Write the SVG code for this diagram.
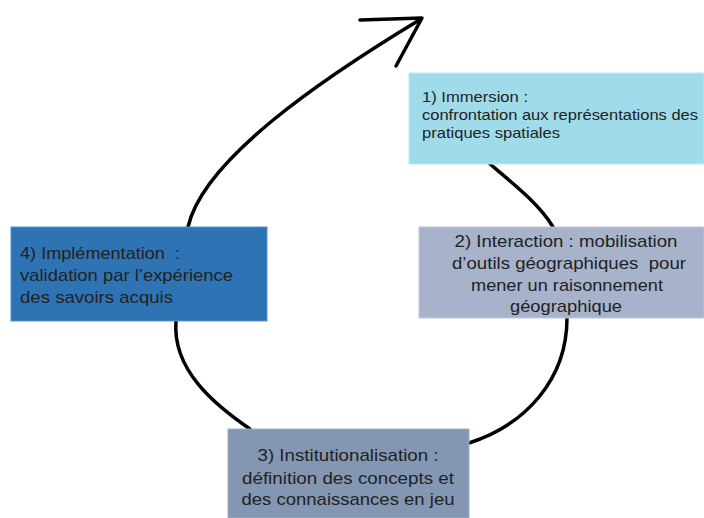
<svg xmlns="http://www.w3.org/2000/svg" width="704" height="518" viewBox="0 0 704 518">
<style>
.bx{stroke-width:1}
.t{font-family:"Liberation Sans",Arial,sans-serif;fill:#222;white-space:pre}
.t16{font-size:17px}
.t14{font-size:15px}
.c{fill:none;stroke:#000;stroke-width:3.5;stroke-linecap:round;stroke-linejoin:round}
</style>
<rect width="704" height="518" fill="#fff"/>
<g id="connectors">
<path class="c" d="M490 164 C515 185,540 205,553 227"/>
<path class="c" d="M567 318 C567 380,525 425,469 443"/>
<path class="c" d="M250 429 C215 405,172 370,176 321"/>
<path class="c" d="M188 227 C203 160,320 80,421 19"/>
<path class="c" d="M360 20 L422 18 L396 66"/>
</g>
<g id="node1">
<rect class="bx" x="409" y="73" width="295" height="91" fill="#9fdbe9" stroke="#bfe8f2"/>
<text class="t t14" x="422" y="102" textLength="106" lengthAdjust="spacingAndGlyphs">1) Immersion :</text>
<text class="t t14" x="422" y="120" textLength="276" lengthAdjust="spacingAndGlyphs">confrontation aux représentations des</text>
<text class="t t14" x="422" y="138" textLength="138" lengthAdjust="spacingAndGlyphs">pratiques spatiales</text>
</g>
<g id="node2">
<rect class="bx" x="419" y="227" width="285" height="91" fill="#a7b3cb" stroke="#c0c9da"/>
<text class="t t16" x="566" y="247" text-anchor="middle" textLength="223" lengthAdjust="spacingAndGlyphs">2) Interaction : mobilisation</text>
<text class="t t16" x="569" y="269" text-anchor="middle" textLength="234" lengthAdjust="spacingAndGlyphs">d’outils géographiques  pour</text>
<text class="t t16" x="567" y="290.5" text-anchor="middle" textLength="192" lengthAdjust="spacingAndGlyphs">mener un raisonnement</text>
<text class="t t16" x="566" y="312" text-anchor="middle" textLength="112" lengthAdjust="spacingAndGlyphs">géographique</text>
</g>
<g id="node3">
<rect class="bx" x="228" y="429" width="241" height="89" fill="#8397b2" stroke="#9fb0c6"/>
<text class="t t16" x="348" y="461" text-anchor="middle" textLength="181" lengthAdjust="spacingAndGlyphs">3) Institutionalisation :</text>
<text class="t t16" x="348" y="484" text-anchor="middle" textLength="212" lengthAdjust="spacingAndGlyphs">définition des concepts et</text>
<text class="t t16" x="348" y="505" text-anchor="middle" textLength="213" lengthAdjust="spacingAndGlyphs">des connaissances en jeu</text>
</g>
<g id="node4">
<rect class="bx" x="11" y="227" width="256" height="94" fill="#2e74b5" stroke="#5b92c8"/>
<text class="t t16" x="20" y="259" textLength="160" lengthAdjust="spacingAndGlyphs">4) Implémentation  :</text>
<text class="t t16" x="20" y="281" textLength="213" lengthAdjust="spacingAndGlyphs">validation par l’expérience</text>
<text class="t t16" x="20" y="303" textLength="153" lengthAdjust="spacingAndGlyphs">des savoirs acquis</text>
</g>
</svg>
